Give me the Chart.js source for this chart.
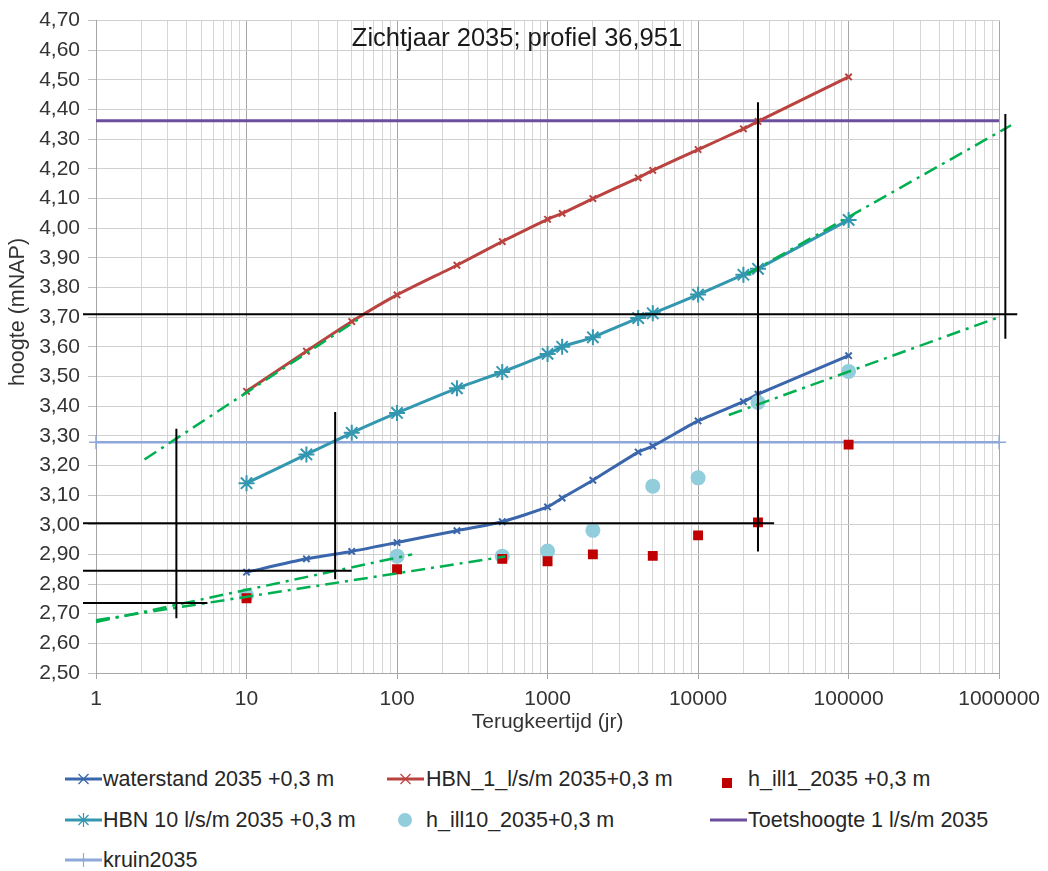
<!DOCTYPE html>
<html>
<head>
<meta charset="utf-8">
<title>Zichtjaar 2035; profiel 36,951</title>
<script src="https://cdn.jsdelivr.net/npm/chart.js@4.4.1/dist/chart.umd.min.js"></script>
<style>
  html, body { margin: 0; padding: 0; background: #fff; }
  #wrap { position: relative; width: 1048px; height: 871px; font-family: "Liberation Sans", Arial, sans-serif; }
  #chartBox { position: absolute; left: 0; top: 0; width: 1048px; height: 760px; }
  .lgText { position: absolute; height: 26px; line-height: 26px; font-size: 21.5px; color: #262626; white-space: nowrap; }
  .lgIcon { position: absolute; }
</style>
</head>
<body>
<div id="wrap">
  <div id="chartBox"><canvas id="chart"></canvas></div>
  <div id="legend"></div>
</div>
<script>
// titels
var chartTitle = 'Zichtjaar 2035; profiel 36,951';
var xTitle = 'Terugkeertijd (jr)';
var yTitle = 'hoogte (mNAP)';

// terugkeertijden (jr)
var terugkeertijd = [10, 25, 50, 100, 250, 500, 1000, 1250, 2000, 4000, 5000, 10000, 20000, 25000, 100000];
var waterstand = [2.84, 2.885, 2.91, 2.94, 2.98, 3.01, 3.06, 3.09, 3.15, 3.245, 3.265, 3.35, 3.415, 3.44, 3.57];
var hbn1 = [3.45, 3.585, 3.685, 3.775, 3.875, 3.955, 4.03, 4.05, 4.10, 4.17, 4.195, 4.265, 4.335, 4.36, 4.51];
var hbn10 = [3.14, 3.237, 3.31, 3.377, 3.46, 3.515, 3.576, 3.60, 3.632, 3.697, 3.713, 3.776, 3.843, 3.863, 4.028];

// illustratiepunten
var illTijd = [10, 100, 500, 1000, 2000, 5000, 10000, 25000, 100000];
var hIll1 = [2.752, 2.85, 2.885, 2.877, 2.90, 2.895, 2.964, 3.008, 3.27];
var hIll10 = [2.762, 2.894, 2.894, 2.911, 2.981, 3.13, 3.158, 3.412, 3.517];

// horizontale niveaus
var niveauTijd = [1, 1000000];
var toetshoogte = 4.362;
var kruin = 3.278;

// hulplijnen (trendlijnen, groen streep-punt)
var trendLijnen = [
  [[2.1, 3.22], [58, 3.70]],
  [[21400, 3.846], [1200000, 4.347]],
  [[16000, 3.37], [1000000, 3.70]],
  [[1, 2.672], [126, 2.90]],
  [[1, 2.678], [525, 2.893]]
];

// hulplijnen (zwart, aflezing)
var afleesLijnen = [
  [[0.82, 3.71], [1320000, 3.71]],
  [[1100000, 4.385], [1100000, 3.627]],
  [[25000, 4.425], [25000, 2.91]],
  [[0.82, 3.005], [32000, 3.005]],
  [[3.42, 3.324], [3.42, 2.685]],
  [[38.8, 3.38], [38.8, 2.816]],
  [[0.82, 2.845], [50, 2.845]],
  [[0.82, 2.736], [5.5, 2.736]]
];

// as-instellingen
var xMin = 1, xMax = 1000000;
var yMin = 2.5, yMax = 4.7, yStep = 0.1;
var xTickLabels = [1, 10, 100, 1000, 10000, 100000, 1000000];

var kleuren = {
  waterstand: '#3A66AB',
  hbn1: '#BA4340',
  hbn10: '#3397B0',
  ill1: '#C00000',
  ill10: '#92CDDC',
  toets: '#6B4E9E',
  kruin: '#8EA8DA',
  trend: '#00B050',
  zwart: '#000000'
};

var fontFam = '"Liberation Sans", Arial, sans-serif';
var tekstKleur = '#333333';

function isDecade(v) {
  var l = Math.log10(v);
  return Math.abs(l - Math.round(l)) < 1e-9;
}

// grid lines on every 1..9 x 10^n
var xGrid = [];
for (var e = 0; e < 6; e++) {
  for (var m = 1; m < 10; m++) xGrid.push(m * Math.pow(10, e));
}
xGrid.push(xMax);

function pts(xs, ys) {
  return xs.map(function(x, i) { return {x: x, y: ys[i]}; });
}
function lijn(seg) {
  return seg.map(function(p) { return {x: p[0], y: p[1]}; });
}

var datasets = [];

afleesLijnen.forEach(function(seg) {
  datasets.push({
    data: lijn(seg), borderColor: kleuren.zwart, borderWidth: 2,
    pointRadius: 0, clip: false, order: 0, tension: 0
  });
});
trendLijnen.forEach(function(seg) {
  datasets.push({
    data: lijn(seg), borderColor: kleuren.trend, borderWidth: 2.5,
    borderDash: [14, 6, 3, 6], pointRadius: 0, clip: false, order: 1, tension: 0
  });
});

datasets.push({
  label: 'waterstand 2035 +0,3 m', data: pts(terugkeertijd, waterstand),
  borderColor: kleuren.waterstand, borderWidth: 3, tension: 0.2,
  pointStyle: 'crossRot', pointRadius: 4.5, pointBorderWidth: 2,
  pointBorderColor: kleuren.waterstand, order: 3
});
datasets.push({
  label: 'HBN_1_l/s/m 2035+0,3 m', data: pts(terugkeertijd, hbn1),
  borderColor: kleuren.hbn1, borderWidth: 3, tension: 0.2,
  pointStyle: 'crossRot', pointRadius: 4.5, pointBorderWidth: 2,
  pointBorderColor: kleuren.hbn1, order: 3
});
datasets.push({
  label: 'h_ill1_2035 +0,3 m', data: pts(illTijd, hIll1), showLine: false,
  pointStyle: 'rect', pointRadius: 7, pointBorderWidth: 0,
  pointBackgroundColor: kleuren.ill1, borderColor: kleuren.ill1, order: 2
});
datasets.push({
  label: 'HBN 10 l/s/m 2035 +0,3 m', data: pts(terugkeertijd, hbn10),
  borderColor: kleuren.hbn10, borderWidth: 3, tension: 0.2,
  pointStyle: 'star', pointRadius: 8, pointBorderWidth: 2,
  pointBorderColor: kleuren.hbn10, order: 3
});
datasets.push({
  label: 'h_ill10_2035+0,3 m', data: pts(illTijd, hIll10), showLine: false,
  pointStyle: 'circle', pointRadius: 7.5, pointBorderWidth: 0,
  pointBackgroundColor: kleuren.ill10, borderColor: kleuren.ill10, order: 2
});
datasets.push({
  label: 'Toetshoogte 1 l/s/m 2035', data: pts(niveauTijd, [toetshoogte, toetshoogte]),
  borderColor: kleuren.toets, borderWidth: 3, pointRadius: 0, order: 5
});
datasets.push({
  label: 'kruin2035', data: pts(niveauTijd, [kruin, kruin]),
  borderColor: kleuren.kruin, borderWidth: 2.5, pointStyle: 'cross',
  pointRadius: 7, pointBorderWidth: 1.5, pointBorderColor: kleuren.kruin, clip: false, order: 5
});

var tekstPlugin = {
  id: 'teksten',
  afterDraw: function(chart) {
    var ctx = chart.ctx;
    ctx.save();
    ctx.fillStyle = '#1a1a1a';
    ctx.textAlign = 'center';
    ctx.textBaseline = 'middle';
    ctx.font = '25.5px ' + fontFam;
    ctx.fillText(chartTitle, 517, 39);
    ctx.fillStyle = tekstKleur;
    ctx.font = '21.5px ' + fontFam;
    ctx.translate(18, 312);
    ctx.rotate(-Math.PI / 2);
    ctx.fillText(yTitle, 0, 0);
    ctx.restore();
  }
};

new Chart(document.getElementById('chart'), {
  type: 'line',
  data: {datasets: datasets},
  plugins: [tekstPlugin],
  options: {
    responsive: true,
    maintainAspectRatio: false,
    animation: false,
    layout: {padding: {left: 0, right: 44, top: 18, bottom: 0}},
    plugins: {legend: {display: false}, tooltip: {enabled: false}},
    scales: {
      x: {
        type: 'logarithmic', min: xMin, max: xMax,
        afterBuildTicks: function(scale) {
          scale.ticks = xGrid.map(function(v) { return {value: v, major: false}; });
        },
        afterFit: function(scale) { scale.height = 87; },
        grid: {
          color: function(c) { return c.tick && isDecade(c.tick.value) ? '#a6a6a6' : '#d6d6d6'; },
          tickColor: function(c) { return c.tick && isDecade(c.tick.value) ? '#a6a6a6' : 'rgba(0,0,0,0)'; },
          tickLength: 6, lineWidth: 1
        },
        border: {color: '#a6a6a6'},
        ticks: {
          autoSkip: false, maxRotation: 0, padding: 8, color: tekstKleur,
          font: {family: fontFam, size: 21},
          callback: function(v) {
            return xTickLabels.indexOf(v) >= 0 ? String(v) : '';
          }
        },
        title: {
          display: true, text: xTitle, color: tekstKleur,
          font: {family: fontFam, size: 21}, padding: {top: 0, bottom: 25}
        }
      },
      y: {
        type: 'linear', min: yMin, max: yMax,
        afterFit: function(scale) { scale.width = 96; },
        grid: {color: '#d0d0d0', tickColor: '#c0c0c0', tickLength: 8, lineWidth: 1},
        border: {color: '#a6a6a6'},
        ticks: {
          stepSize: yStep, padding: 8, color: tekstKleur,
          font: {family: fontFam, size: 21},
          callback: function(v) { return v.toFixed(2).replace('.', ','); }
        }
      }
    }
  }
});

// legenda
var legendItems = [
  {label: 'waterstand 2035 +0,3 m', kleur: kleuren.waterstand, icoon: 'lijnX'},
  {label: 'HBN_1_l/s/m 2035+0,3 m', kleur: kleuren.hbn1, icoon: 'lijnX'},
  {label: 'h_ill1_2035 +0,3 m', kleur: kleuren.ill1, icoon: 'vierkant'},
  {label: 'HBN 10 l/s/m 2035 +0,3 m', kleur: kleuren.hbn10, icoon: 'lijnSter'},
  {label: 'h_ill10_2035+0,3 m', kleur: kleuren.ill10, icoon: 'cirkel'},
  {label: 'Toetshoogte 1 l/s/m 2035', kleur: kleuren.toets, icoon: 'lijn'},
  {label: 'kruin2035', kleur: kleuren.kruin, icoon: 'lijnPlus'}
];
var legendPos = [
  {ix: 65, tx: 103, y: 779}, {ix: 387, tx: 426, y: 779}, {ix: 722, tx: 748, y: 779},
  {ix: 65, tx: 103, y: 820}, {ix: 398, tx: 426, y: 820}, {ix: 710, tx: 748, y: 820},
  {ix: 65, tx: 103, y: 860}
];

function icoonSvg(soort, kleur) {
  var w = 37, h = 16, c = 8, mx = 18.5, s = '';
  if (soort === 'vierkant') {
    return '<svg width="10" height="10"><rect x="0" y="0" width="10" height="10" fill="' + kleur + '"/></svg>';
  }
  if (soort === 'cirkel') {
    return '<svg width="14" height="14"><circle cx="7" cy="7" r="7" fill="' + kleur + '"/></svg>';
  }
  s += '<line x1="0" y1="' + c + '" x2="' + w + '" y2="' + c + '" stroke="' + kleur + '" stroke-width="3"/>';
  var r = 5;
  if (soort === 'lijnX' || soort === 'lijnSter') {
    s += '<line x1="' + (mx - r) + '" y1="' + (c - r) + '" x2="' + (mx + r) + '" y2="' + (c + r) + '" stroke="' + kleur + '" stroke-width="1.2"/>';
    s += '<line x1="' + (mx - r) + '" y1="' + (c + r) + '" x2="' + (mx + r) + '" y2="' + (c - r) + '" stroke="' + kleur + '" stroke-width="1.2"/>';
  }
  if (soort === 'lijnSter' || soort === 'lijnPlus') {
    s += '<line x1="' + mx + '" y1="' + (c - 7) + '" x2="' + mx + '" y2="' + (c + 7) + '" stroke="' + kleur + '" stroke-width="1.2"/>';
  }
  return '<svg width="' + w + '" height="' + h + '">' + s + '</svg>';
}

var legendEl = document.getElementById('legend');
legendItems.forEach(function(item, i) {
  var p = legendPos[i];
  var ic = document.createElement('div');
  ic.className = 'lgIcon';
  ic.innerHTML = icoonSvg(item.icoon, item.kleur);
  var ih = item.icoon === 'vierkant' ? 10 : (item.icoon === 'cirkel' ? 14 : 16);
  ic.style.left = p.ix + 'px';
  ic.style.top = (p.y - ih / 2) + 'px';
  ic.style.height = ih + 'px';
  legendEl.appendChild(ic);
  var t = document.createElement('div');
  t.className = 'lgText';
  t.textContent = item.label;
  t.style.left = p.tx + 'px';
  t.style.top = (p.y - 13) + 'px';
  legendEl.appendChild(t);
});
</script>
</body>
</html>
